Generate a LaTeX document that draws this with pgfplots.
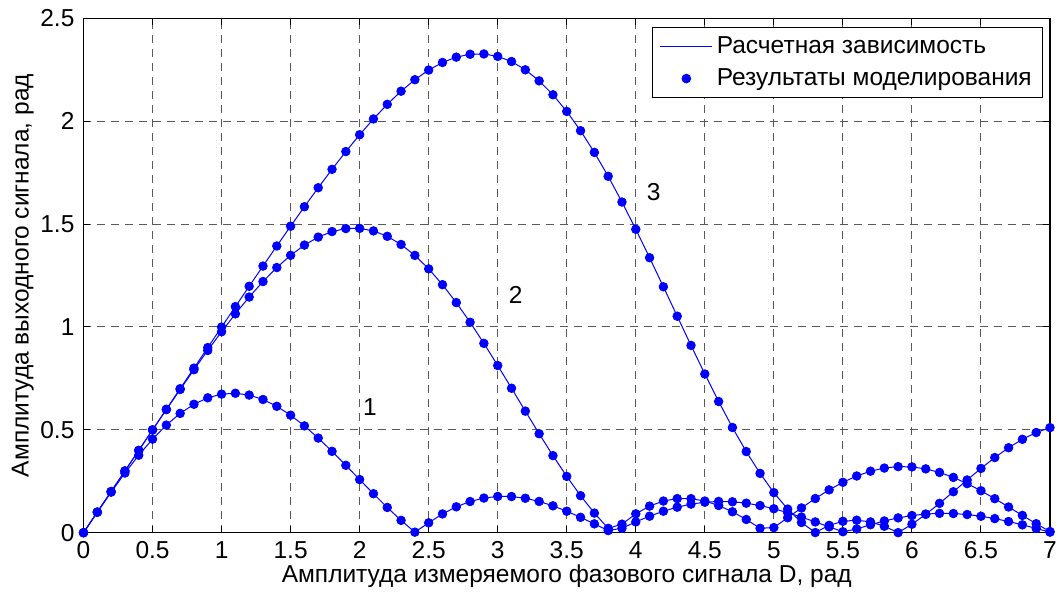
\documentclass[border=0pt]{standalone}
\usepackage{fontspec}
\setmainfont{Liberation Sans}
\usepackage{pgfplots}
\pgfplotsset{compat=1.18}
\usepackage{pgfplotstable}

\pgfplotstableread{
x a b c
0.0 0.0000 0.0000 0.0000
0.1 0.0996 0.1000 0.1000
0.2 0.1970 0.2000 0.2000
0.3 0.2900 0.2999 0.3000
0.4 0.3765 0.3997 0.4000
0.5 0.4547 0.4992 0.5000
0.6 0.5229 0.5981 0.6000
0.7 0.5798 0.6959 0.6999
0.8 0.6243 0.7921 0.7999
0.9 0.6556 0.8860 0.8997
1.0 0.6734 0.9768 0.9993
1.1 0.6777 1.0636 1.0987
1.2 0.6688 1.1453 1.1976
1.3 0.6474 1.2206 1.2959
1.4 0.6144 1.2887 1.3934
1.5 0.5711 1.3481 1.4896
1.6 0.5191 1.3978 1.5842
1.7 0.4599 1.4366 1.6765
1.8 0.3954 1.4636 1.7660
1.9 0.3276 1.4780 1.8523
2.0 0.2582 1.4792 1.9341
2.1 0.1894 1.4667 2.0109
2.2 0.1227 1.4405 2.0818
2.3 0.0600 1.4007 2.1457
2.4 0.0026 1.3478 2.2016
2.5 0.0481 1.2823 2.2484
2.6 0.0912 1.2054 2.2853
2.7 0.1258 1.1183 2.3112
2.8 0.1516 1.0227 2.3253
2.9 0.1684 0.9201 2.3267
3.0 0.1763 0.8125 2.3148
3.1 0.1758 0.7022 2.2901
3.2 0.1674 0.5908 2.2497
3.3 0.1519 0.4809 2.1960
3.4 0.1306 0.3746 2.1285
3.5 0.1044 0.2736 2.0474
3.6 0.0748 0.1800 1.9537
3.7 0.0430 0.0954 1.8482
3.8 0.0103 0.0212 1.7322
3.9 0.0219 0.0415 1.6071
4.0 0.0525 0.0918 1.4746
4.1 0.0803 0.1293 1.3365
4.2 0.1044 0.1539 1.1951
4.3 0.1241 0.1658 1.0522
4.4 0.1388 0.1655 0.9102
4.5 0.1481 0.1539 0.7713
4.6 0.1520 0.1322 0.6377
4.7 0.1503 0.1018 0.5113
4.8 0.1435 0.0643 0.3943
4.9 0.1320 0.0215 0.2883
5.0 0.1164 0.0248 0.1947
5.1 0.0973 0.0728 0.1148
5.2 0.0757 0.1204 0.0495
5.3 0.0524 0.1661 0.0007
5.4 0.0285 0.2081 0.0356
5.5 0.0047 0.2450 0.0555
5.6 0.0180 0.2756 0.0607
5.7 0.0388 0.2989 0.0524
5.8 0.0570 0.3142 0.0316
5.9 0.0720 0.3212 0.0002
6.0 0.0834 0.3198 0.0411
6.1 0.0907 0.3102 0.0893
6.2 0.0940 0.2930 0.1427
6.3 0.0931 0.2688 0.1991
6.4 0.0884 0.2386 0.2563
6.5 0.0800 0.2038 0.3124
6.6 0.0685 0.1654 0.3652
6.7 0.0544 0.1250 0.4129
6.8 0.0382 0.0840 0.4539
6.9 0.0208 0.0437 0.4869
7.0 0.0028 0.0057 0.5107
}\datatab

\definecolor{mblue}{RGB}{0,0,255}

\begin{document}
\begin{tikzpicture}
\begin{axis}[
  at={(0,0)}, anchor=south west,
  scale only axis, width=483.25pt, height=257.2pt,
  xmin=0, xmax=7, ymin=0, ymax=2.5,
  xtick={0,0.5,1,1.5,2,2.5,3,3.5,4,4.5,5,5.5,6,6.5,7},
  ytick={0,0.5,1,1.5,2,2.5},
  font=\fontsize{12.25}{14.5}\selectfont,
  /pgf/number format/assume math mode=true,
  tick label style={font=\fontsize{12.25}{14.5}\selectfont},
  tick align=inside,
  major tick length=3.5pt,
  tick style={black, line width=0.5pt},
  axis line style={black, line width=0.6pt},
  grid=major,
  major grid style={black!65, line width=0.5pt, dash pattern=on 4pt off 3pt},
  xlabel={Амплитуда измеряемого фазового сигнала D, рад},
  ylabel={Амплитуда выходного сигнала, рад},
  xticklabel style={yshift=-1pt},
  yticklabel style={xshift=-1pt},
  xlabel style={yshift=4pt},
  ylabel style={yshift=-3.5pt},
  legend cell align=left,
  legend image code/.code={\draw[mark repeat=2,mark phase=2,#1] plot coordinates {(0pt,0pt) (13pt,0pt) (26pt,0pt)};},
  legend style={at={(1,1)}, anchor=north east, xshift=-3.35pt, yshift=-4.5pt,
    draw=black, line width=0.5pt, fill=white, inner xsep=3.5pt, inner ysep=2.5pt,
    row sep=2pt, font=\fontsize{12.25}{14.5}\selectfont},
]
\addplot[color=mblue, line width=0.5pt] table[x=x, y=a] {\datatab};
\addlegendentry{Расчетная зависимость}
\addplot[only marks, mark=*, mark size=2.15pt, color=mblue, mark options={draw=mblue, fill=mblue}] table[x=x, y=a] {\datatab};
\addlegendentry{Результаты моделирования}
\addplot[color=mblue, line width=0.5pt, forget plot] table[x=x, y=b] {\datatab};
\addplot[color=mblue, line width=0.5pt, forget plot] table[x=x, y=c] {\datatab};
\addplot[only marks, mark=*, mark size=2.15pt, color=mblue, mark options={draw=mblue, fill=mblue}, forget plot] table[x=x, y=b] {\datatab};
\addplot[only marks, mark=*, mark size=2.15pt, color=mblue, mark options={draw=mblue, fill=mblue}, forget plot] table[x=x, y=c] {\datatab};
\node[font=\fontsize{12.25}{14.5}\selectfont] at (axis cs:2.075,0.612) {1};
\node[font=\fontsize{12.25}{14.5}\selectfont] at (axis cs:3.13,1.154) {2};
\node[font=\fontsize{12.25}{14.5}\selectfont] at (axis cs:4.13,1.655) {3};
\end{axis}
\pgfresetboundingbox
\useasboundingbox (-41.75pt,-30.65pt) rectangle (488.25pt,266.35pt);
\end{tikzpicture}
\end{document}
